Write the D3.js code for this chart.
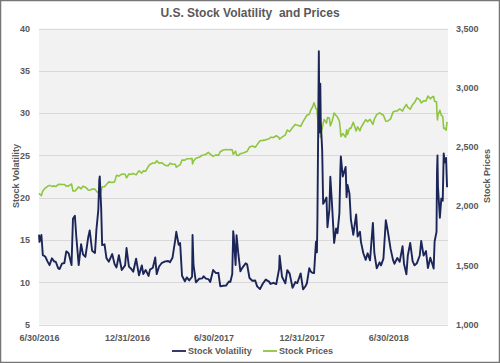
<!DOCTYPE html>
<html>
<head>
<meta charset="utf-8">
<script src="https://cdn.jsdelivr.net/npm/d3@7"></script>
<style>
  body { margin: 0; background: #fff; }
  text { font-family: "Liberation Sans", Arial, sans-serif; fill: #595959; }
</style>
</head>
<body>
<script>
// ---- data ----
var dates = [
  "2016-06-30","2016-07-01","2016-07-05","2016-07-08","2016-07-13","2016-07-18","2016-07-22","2016-07-27",
  "2016-08-01","2016-08-04","2016-08-09","2016-08-12","2016-08-17","2016-08-22","2016-08-26","2016-08-31",
  "2016-09-06","2016-09-09","2016-09-13","2016-09-16","2016-09-21","2016-09-26","2016-09-30","2016-10-05",
  "2016-10-11","2016-10-14","2016-10-19","2016-10-25","2016-10-28","2016-11-01","2016-11-03","2016-11-04",
  "2016-11-07","2016-11-09","2016-11-14","2016-11-18","2016-11-23","2016-11-30","2016-12-05","2016-12-09",
  "2016-12-14","2016-12-20","2016-12-27","2016-12-30",
  "2017-01-04","2017-01-09","2017-01-13","2017-01-19","2017-01-25","2017-01-31","2017-02-03","2017-02-08",
  "2017-02-14","2017-02-17","2017-02-23","2017-02-28","2017-03-03","2017-03-08","2017-03-14","2017-03-21",
  "2017-03-27","2017-03-31","2017-04-05","2017-04-11","2017-04-13","2017-04-18","2017-04-21","2017-04-25",
  "2017-05-01","2017-05-05","2017-05-10","2017-05-16","2017-05-17","2017-05-19","2017-05-24","2017-05-31",
  "2017-06-06","2017-06-09","2017-06-14","2017-06-19","2017-06-23","2017-06-29","2017-07-05","2017-07-10",
  "2017-07-14","2017-07-20","2017-07-26","2017-08-01","2017-08-04","2017-08-08","2017-08-10","2017-08-11",
  "2017-08-15","2017-08-17","2017-08-21","2017-08-25","2017-08-29","2017-09-05","2017-09-08","2017-09-13",
  "2017-09-19","2017-09-25","2017-09-29","2017-10-05","2017-10-11","2017-10-17","2017-10-24","2017-10-27",
  "2017-11-02","2017-11-08","2017-11-14","2017-11-15","2017-11-20","2017-11-27","2017-12-01","2017-12-06",
  "2017-12-12","2017-12-18","2017-12-22","2017-12-29",
  "2018-01-03","2018-01-08","2018-01-11","2018-01-16","2018-01-19","2018-01-23","2018-01-26","2018-01-30",
  "2018-02-01","2018-02-02","2018-02-05","2018-02-06","2018-02-07","2018-02-08","2018-02-09","2018-02-12",
  "2018-02-14","2018-02-16","2018-02-21","2018-02-23","2018-02-27","2018-03-01","2018-03-05","2018-03-09",
  "2018-03-13","2018-03-16","2018-03-20","2018-03-22","2018-03-23","2018-03-27","2018-04-02","2018-04-04",
  "2018-04-06","2018-04-10","2018-04-13","2018-04-18","2018-04-24","2018-04-27","2018-05-02","2018-05-04",
  "2018-05-09","2018-05-14","2018-05-18","2018-05-23","2018-05-29","2018-06-01","2018-06-06","2018-06-12",
  "2018-06-15","2018-06-20","2018-06-25","2018-06-29","2018-07-05","2018-07-10","2018-07-13","2018-07-19",
  "2018-07-24","2018-07-30","2018-08-02","2018-08-07","2018-08-10","2018-08-15","2018-08-20","2018-08-24",
  "2018-08-29","2018-09-04","2018-09-07","2018-09-12","2018-09-17","2018-09-21","2018-09-26","2018-10-01",
  "2018-10-03","2018-10-05","2018-10-09","2018-10-10","2018-10-11","2018-10-12","2018-10-16","2018-10-19",
  "2018-10-22","2018-10-24","2018-10-26","2018-10-29","2018-10-31"
];

var volatility = [
  15.63,14.77,15.58,13.20,13.04,12.44,12.02,12.83,
  12.44,12.42,11.66,11.55,12.19,12.27,13.65,13.42,
  12.02,17.50,17.85,15.37,12.02,14.50,13.29,12.99,
  15.36,16.12,13.72,13.46,16.19,18.56,22.08,22.51,
  18.71,14.38,14.48,12.85,12.43,13.33,12.14,11.75,
  13.19,11.45,11.99,14.04,
  11.85,11.56,11.23,12.78,10.81,11.99,10.97,11.45,
  10.74,11.49,11.71,12.92,10.96,11.86,12.30,12.47,
  12.50,12.37,12.89,15.07,15.96,14.42,14.63,10.76,
  10.11,10.57,10.21,10.65,15.59,12.04,9.99,10.41,
  10.45,10.70,10.42,10.37,10.02,11.44,11.07,11.11,
  9.51,9.58,9.60,10.09,10.03,10.96,16.04,15.51,
  12.04,15.55,13.19,11.28,11.70,12.23,12.12,10.50,
  10.18,10.21,9.51,9.19,9.85,10.31,10.07,9.80,
  9.93,9.78,11.59,13.13,10.65,9.87,11.43,11.02,
  9.34,10.03,9.90,11.04,
  9.15,9.52,9.88,11.66,11.27,11.10,11.08,14.79,
  13.54,17.31,37.32,29.98,27.73,33.46,29.06,25.61,
  19.26,19.46,20.02,16.49,18.59,22.47,18.73,14.64,
  16.35,15.80,18.20,23.34,24.87,22.50,23.62,20.06,
  21.49,20.47,17.41,15.60,18.02,15.41,15.97,14.77,
  13.42,12.65,13.42,12.58,17.02,13.46,11.64,12.35,
  11.98,12.79,17.33,16.09,13.94,12.64,12.18,12.87,
  12.41,14.26,12.19,10.93,13.16,14.64,12.49,11.99,
  12.25,13.16,14.88,13.14,13.68,11.68,12.89,12.00,
  11.61,14.82,15.95,22.96,24.98,21.31,17.62,19.89,
  19.64,25.23,24.16,24.70,21.23
];

var prices = [
  2098.9,2103.0,2088.6,2129.9,2152.4,2166.9,2175.0,2166.6,
  2170.8,2164.3,2181.7,2184.1,2182.2,2182.6,2169.0,2171.0,
  2186.5,2127.8,2127.0,2139.2,2163.1,2146.1,2168.3,2159.7,
  2136.7,2133.0,2144.3,2143.2,2126.4,2111.7,2088.7,2085.2,
  2131.5,2163.3,2164.2,2181.9,2204.7,2198.8,2204.7,2259.5,
  2253.3,2270.8,2268.9,2238.8,
  2270.8,2268.9,2274.6,2263.7,2298.4,2278.9,2297.4,2294.7,
  2337.6,2351.2,2363.8,2363.6,2383.1,2363.0,2365.5,2344.0,
  2341.6,2362.7,2353.0,2353.8,2329.0,2342.2,2348.7,2388.6,
  2388.3,2399.3,2399.6,2400.7,2357.0,2381.7,2404.4,2411.8,
  2429.3,2431.8,2437.9,2453.5,2438.3,2419.7,2432.5,2427.4,
  2459.3,2473.5,2477.8,2476.4,2476.8,2474.9,2438.2,2441.3,
  2464.6,2430.0,2428.4,2443.1,2446.3,2457.9,2461.4,2498.4,
  2506.7,2496.7,2519.4,2552.1,2555.2,2559.4,2569.1,2581.1,
  2579.9,2594.4,2578.9,2564.6,2582.1,2601.4,2642.2,2629.3,
  2664.1,2690.2,2683.3,2673.6,
  2713.1,2747.7,2767.6,2776.4,2810.3,2839.1,2872.9,2822.4,
  2822.0,2762.1,2648.9,2695.1,2681.7,2581.0,2619.6,2656.0,
  2698.6,2732.2,2701.3,2747.3,2744.3,2677.7,2720.9,2786.6,
  2765.3,2752.0,2716.9,2643.7,2588.3,2612.6,2581.9,2644.7,
  2604.5,2656.9,2656.3,2708.6,2634.6,2669.9,2635.7,2663.4,
  2697.8,2730.1,2713.0,2733.3,2689.9,2734.6,2772.4,2786.9,
  2779.7,2767.3,2717.1,2718.4,2736.6,2793.8,2801.3,2804.5,
  2820.4,2802.6,2827.2,2858.5,2833.3,2818.4,2857.1,2874.7,
  2914.0,2896.7,2871.7,2888.9,2888.8,2929.7,2906.0,2924.6,
  2925.5,2885.6,2880.3,2785.7,2728.4,2767.1,2809.9,2767.8,
  2755.9,2656.1,2658.7,2641.3,2711.7
];

var xTicks = ["2016-06-30","2016-12-31","2017-06-30","2017-12-31","2018-06-30"];
var volTicks = [5, 10, 15, 20, 25, 30, 35, 40];
var priceTicks = [1000, 1500, 2000, 2500, 3000, 3500];

// ---- layout ----
var width = 500, height = 363;
var plotLeft = 39, plotRight = 448, plotTop = 28.5, plotBottom = 324.5;
var fontSize = "9px";

var parse = d3.utcParse("%Y-%m-%d");
var rows = dates.map(function (d, i) {
  return { date: parse(d), vol: volatility[i], price: prices[i] };
});

var x = d3.scaleUtc()
  .domain([parse("2016-06-30"), parse("2018-11-02")])
  .range([plotLeft, plotRight]);
var yVol = d3.scaleLinear().domain([5, 40]).range([plotBottom, plotTop]);
var yPrice = d3.scaleLinear().domain([1000, 3500]).range([plotBottom, plotTop]);

var svg = d3.select("body").append("svg")
  .attr("width", width)
  .attr("height", height);

// outer border
svg.append("rect")
  .attr("x", 0.5).attr("y", 0.5)
  .attr("width", width - 1).attr("height", height - 1)
  .attr("fill", "#fff")
  .attr("stroke", "#767676")
  .attr("stroke-width", 1.5);

// plot background
svg.append("rect")
  .attr("x", plotLeft).attr("y", plotTop)
  .attr("width", plotRight - plotLeft).attr("height", plotBottom - plotTop)
  .attr("fill", "#f2f2f2");

// gridlines
svg.append("g")
  .selectAll("line")
  .data(volTicks)
  .enter()
  .append("line")
  .attr("x1", plotLeft).attr("x2", plotRight)
  .attr("y1", function (d) { return Math.round(yVol(d)) + 0.5; })
  .attr("y2", function (d) { return Math.round(yVol(d)) + 0.5; })
  .attr("stroke", "#d9d9d9")
  .attr("stroke-width", 1);

// left axis
var leftAxis = svg.append("g")
  .attr("transform", "translate(" + plotLeft + ",0)")
  .call(d3.axisLeft(yVol).tickValues(volTicks).tickSize(0).tickPadding(9));
leftAxis.select(".domain").remove();

// right axis
var rightAxis = svg.append("g")
  .attr("transform", "translate(" + plotRight + ",0)")
  .call(d3.axisRight(yPrice).tickValues(priceTicks).tickSize(0).tickPadding(8).tickFormat(d3.format(",")));
rightAxis.select(".domain").remove();

// bottom axis
var bottomAxis = svg.append("g")
  .attr("transform", "translate(0," + plotBottom + ")")
  .call(d3.axisBottom(x)
    .tickValues(xTicks.map(parse))
    .tickSize(0)
    .tickPadding(10)
    .tickFormat(d3.utcFormat("%-m/%-d/%Y")));
bottomAxis.select(".domain").remove();

svg.selectAll(".tick text")
  .style("font-family", '"Liberation Sans", Arial, sans-serif')
  .style("font-size", fontSize)
  .style("font-weight", "bold")
  .attr("fill", "#595959");

// lines
var volLine = d3.line()
  .x(function (d) { return x(d.date); })
  .y(function (d) { return yVol(d.vol); });
var priceLine = d3.line()
  .x(function (d) { return x(d.date); })
  .y(function (d) { return yPrice(d.price); });

svg.append("path")
  .datum(rows)
  .attr("d", priceLine)
  .attr("fill", "none")
  .attr("stroke", "#8dc63f")
  .attr("stroke-width", 1.6)
  .attr("stroke-linejoin", "round");

svg.append("path")
  .datum(rows)
  .attr("d", volLine)
  .attr("fill", "none")
  .attr("stroke", "#1c2558")
  .attr("stroke-width", 1.9)
  .attr("stroke-linejoin", "round");

// title
svg.append("text")
  .attr("x", 250).attr("y", 17)
  .attr("text-anchor", "middle")
  .style("font-size", "12px")
  .style("font-weight", "bold")
  .attr("xml:space", "preserve")
  .text("U.S. Stock Volatility  and Prices");

// axis titles
svg.append("text")
  .attr("transform", "translate(19,176) rotate(-90)")
  .attr("text-anchor", "middle")
  .style("font-size", fontSize)
  .style("font-weight", "bold")
  .text("Stock Volatility");

svg.append("text")
  .attr("transform", "translate(490,176) rotate(-90)")
  .attr("text-anchor", "middle")
  .style("font-size", fontSize)
  .style("font-weight", "bold")
  .text("Stock Prices");

// legend
var legend = [
  { name: "Stock Volatility", color: "#1c2558", x: 172 },
  { name: "Stock Prices", color: "#8dc63f", x: 263 }
];
var lg = svg.append("g").selectAll("g")
  .data(legend)
  .enter()
  .append("g")
  .attr("transform", function (d) { return "translate(" + d.x + ",351)"; });
lg.append("line")
  .attr("x1", 0).attr("x2", 14)
  .attr("stroke", function (d) { return d.color; })
  .attr("stroke-width", 1.8);
lg.append("text")
  .attr("x", 16).attr("y", 3.3)
  .style("font-size", fontSize)
  .style("font-weight", "bold")
  .text(function (d) { return d.name; });
</script>
</body>
</html>
